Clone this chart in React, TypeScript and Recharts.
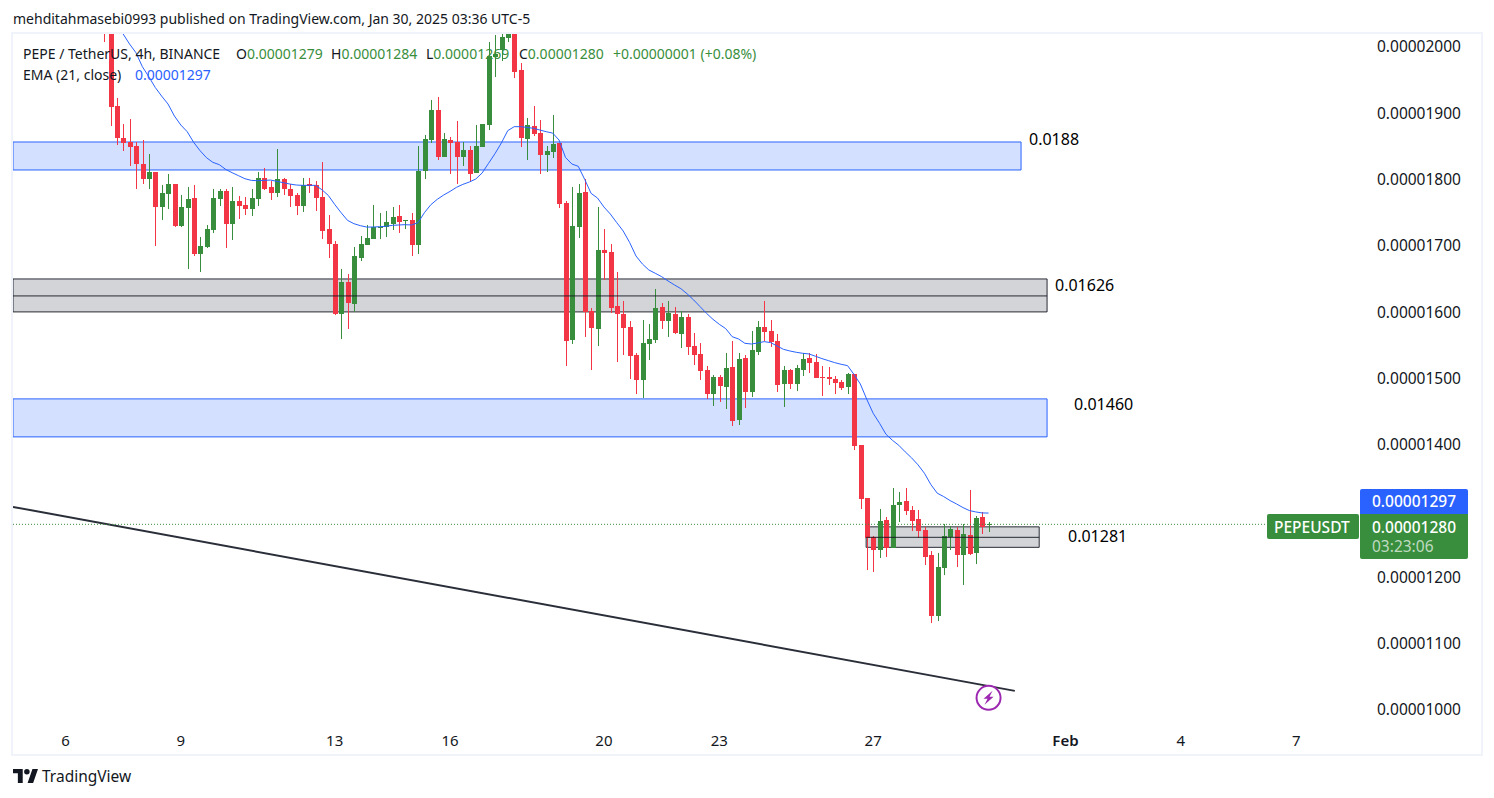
import { ComposedChart, Bar, Line, XAxis, YAxis, ReferenceArea, ReferenceLine, ReferenceDot } from 'recharts';

// prices are in units of 0.00000001 USDT, x is the candle number (4h candles, 6 a day)
const FIRST_CANDLE = -1;

const opens = [
  2060, 2035, 1911, 1863, 1857, 1850.6, 1823.5, 1801, 1811.4, 1758.6, 1778, 1793.3, 1730, 1757, 1772.2, 1687.7, 1698.3, 1724, 1770.7, 1782.8, 1733, 1767.7,
  1761.6, 1755.6, 1770.7, 1802.4, 1788.8, 1779.7, 1800.9, 1785.8, 1776.7, 1760, 1793.3, 1791.8, 1773.7, 1725.4, 1702.8, 1597.2, 1645.5, 1612.3, 1681.7, 1701.3, 1710.3, 1728, 1728.4, 1733, 1745, 1737.5, 1739, 1701.3,
  1812.9, 1859.7, 1905, 1834, 1859.7, 1856.7, 1834, 1844.6, 1809.9, 1849, 1882.3, 1984.9, 1995.4, 2013.5, 2030, 1965.3, 1861.2, 1880.8, 1870.2, 1837, 1841.6, 1855.2, 1764.6, 1558, 1728.4, 1781.2, 1601.7, 1574.6,
  1693.8, 1690.8, 1609.4, 1597.3, 1577.7, 1535.5, 1497.8, 1552, 1558.1, 1607.9, 1586.8, 1597.3, 1567.1, 1592.8, 1549, 1537, 1512.8, 1476.6, 1502.3, 1487.2, 1517.4, 1437.4, 1531, 1479.7, 1540, 1577.7, 1571.7, 1556.6, 1491.7,
  1512.9, 1491.7, 1512.9, 1531, 1524.9, 1502.3, 1502.3, 1499.3, 1494.8, 1487.2, 1506.8, 1399.7, 1319.8, 1261, 1241.4, 1286.6, 1244.4, 1309.2,
  1315.3, 1301.8, 1288.2, 1271.6, 1233.9, 1141.9, 1214.3, 1261, 1271.6, 1233.9, 1264, 1236.9, 1291.2, 1279,
];
const highs = [
  2070, 2045, 1922.5, 1884, 1891, 1857, 1860, 1838.6, 1811.4, 1791.8, 1808.4, 1793.3, 1776.7, 1788.8, 1791.8, 1713.4, 1731.5, 1785.8, 1785.8, 1785.8, 1788.8, 1775.2,
  1773.7, 1785.8, 1811.4, 1817.4, 1797.8, 1846, 1802.4, 1793.3, 1779.7, 1802.4, 1802.4, 1797.8, 1826.5, 1746.6, 1707.3, 1665, 1657.6, 1698.3, 1714.9, 1731.5, 1761.6, 1749.6, 1752.6, 1758.6, 1761.6, 1739, 1749.6, 1850.6,
  1867.2, 1920, 1924.5, 1870, 1864, 1888.3, 1856.7, 1850.6, 1882.3, 1883.8, 2007.5, 2018, 2020, 2025, 2040, 1975.8, 1892.9, 1911, 1889.8, 1850.6, 1897.4, 1855.2, 1767.7, 1788.8, 1793.3, 1800.9, 1606.3, 1758.6,
  1725.5, 1702.9, 1660.7, 1616.9, 1586.8, 1538.5, 1588.3, 1582.2, 1635, 1613.9, 1616.9, 1607.9, 1601.8, 1597.3, 1568.7, 1553.6, 1518.9, 1505.3, 1505.3, 1538.5, 1556.6, 1538.5, 1535.5, 1571.7, 1586.8, 1616.9, 1588.3, 1567.1, 1518.9,
  1514.4, 1520.4, 1538.5, 1538.5, 1537, 1518.9, 1517.4, 1503.8, 1497.8, 1508.3, 1506.8, 1399.7, 1319.8, 1262.5, 1303.2, 1291.1, 1334.9, 1328.8,
  1334.9, 1307.8, 1301.8, 1276.1, 1239.9, 1236.9, 1280.6, 1277.6, 1276.1, 1280.6, 1332, 1292.7, 1298.7, 1284,
];
const lows = [
  2007, 1881, 1852, 1843, 1820.5, 1786, 1793.3, 1786, 1699.8, 1739, 1755.6, 1728.4, 1728.4, 1665, 1684.7, 1660.6, 1696.8, 1719.4, 1760, 1696.8, 1708.8, 1740.5,
  1746.6, 1745, 1760, 1784.3, 1769, 1773.7, 1776.7, 1758.6, 1746.6, 1751, 1779.7, 1752.6, 1710.3, 1681.7, 1595.7, 1559.5, 1574.6, 1600.2, 1677.2, 1701.3, 1710.3, 1710.3, 1713.4, 1723.9, 1719.4, 1725.4, 1684.7, 1687.7,
  1800.9, 1855.6, 1829.5, 1834, 1808.4, 1793.3, 1820.5, 1796.3, 1809.9, 1849, 1874.8, 1954.7, 1978.8, 2007.5, 1953.2, 1849, 1829.5, 1865.7, 1808.4, 1811.4, 1832.5, 1757, 1518.8, 1552, 1711.9, 1562.5, 1512.8, 1549,
  1648.6, 1598.8, 1524.9, 1535.5, 1499.3, 1476.6, 1470.6, 1527.9, 1553.6, 1574.7, 1562.6, 1567.1, 1546, 1535.5, 1520.4, 1497.8, 1469.1, 1458.5, 1464.6, 1454, 1428.4, 1429.9, 1455.5, 1472.1, 1535.5, 1556.6, 1547.5, 1479.7, 1457,
  1484.2, 1481.2, 1503.8, 1508.3, 1500.8, 1473.6, 1490.2, 1476.7, 1482.7, 1476.7, 1392.2, 1303.2, 1211.2, 1208.2, 1229.3, 1230.8, 1244.4, 1283.6,
  1294.2, 1270.1, 1259.5, 1218.8, 1131.3, 1134.3, 1203.7, 1241.4, 1215.8, 1188.6, 1233.9, 1220.3, 1265.6, 1269,
];
const closes = [
  2022, 1910, 1862, 1855.2, 1849, 1823.5, 1801, 1811.4, 1758.6, 1779.7, 1793.3, 1730, 1758.6, 1770.7, 1687.7, 1699.8, 1725.4, 1772.2, 1782.8, 1733, 1767.7, 1760,
  1755.6, 1772.2, 1802.4, 1785.8, 1779.7, 1800.9, 1785.8, 1775.2, 1760, 1791.8, 1790.3, 1772.2, 1722.4, 1702.8, 1597.2, 1645.5, 1613.8, 1684.7, 1702.8, 1711.9, 1728.4, 1729, 1736, 1743.5, 1736, 1739, 1701.3, 1812.9,
  1861.2, 1905, 1834, 1861, 1855, 1834, 1844.6, 1808.4, 1850.6, 1883.8, 1986.4, 1989.4, 2015, 2019.6, 1962.2, 1862.7, 1882.3, 1868.7, 1837, 1843, 1853.6, 1763.1, 1556.5, 1730, 1779.7, 1600.2, 1576.1, 1693.8,
  1689.3, 1606.4, 1597.3, 1576.2, 1534, 1497.8, 1553.6, 1559.6, 1606.4, 1586.8, 1598.8, 1568.7, 1592.8, 1547.5, 1535.5, 1511.3, 1476.6, 1502.3, 1488.7, 1515.9, 1435.9, 1529.4, 1479.7, 1543, 1577.7, 1570.2, 1555.1, 1490.2, 1512.9,
  1491.7, 1515.9, 1529.4, 1523.4, 1500.8, 1500.8, 1499.3, 1493.3, 1485.7, 1506.8, 1398.2, 1318.3, 1259.5, 1241.4, 1285.1, 1244.4, 1309.2, 1313.7,
  1300.2, 1285.2, 1270.1, 1230.9, 1141.9, 1215.8, 1262.5, 1273.1, 1233.9, 1265.6, 1235.4, 1289.7, 1276.1, 1280,
];
const ema = [
  null, 2050, 2035, 2019.6, 2004.5, 1991.4, 1970.3, 1955.2, 1939.1, 1926, 1914, 1895.9, 1882.3, 1872.2, 1856.2, 1843.6, 1833, 1826, 1822.5, 1815.4, 1810.4, 1805.9,
  1801.3, 1798.8, 1798.3, 1798.8, 1799.3, 1797.3, 1795.3, 1793.3, 1791.8, 1791.3, 1791.3, 1791.3, 1784.8, 1776.2, 1762.6, 1750.1, 1738.5, 1733.5, 1730.5, 1728.4, 1728.4, 1729, 1729.5, 1731, 1731.5, 1732, 1731.5, 1735,
  1750.1, 1762.1, 1770.2, 1776.7, 1782.2, 1788.3, 1792.8, 1796.3, 1800.8, 1809.9, 1824.5, 1839, 1855.2, 1873.8, 1879.8, 1879.8, 1878.8, 1877.3, 1874.8, 1872.2, 1870.2, 1859.7, 1833.5, 1823.5, 1820, 1800.3, 1779.2, 1772.2,
  1758.7, 1748, 1735.1, 1722.5, 1705.4, 1684.8, 1672.7, 1663.7, 1658.7, 1653.6, 1647.1, 1641.1, 1635.5, 1627.5, 1618.4, 1608.4, 1598.3, 1589.3, 1581.7, 1575.2, 1563.1, 1559.6, 1553, 1552, 1553.6, 1555.6, 1554.1, 1549.1, 1544,
  1541.5, 1539.5, 1538, 1537, 1533.5, 1530, 1527, 1523.9, 1521.4, 1519.4, 1506.3, 1491.7, 1468.6, 1447.5, 1432.4, 1415.8, 1406.8, 1399.2,
  1389.3, 1380.2, 1369.7, 1357, 1340, 1326.9, 1321.9, 1315.8, 1310.8, 1305.3, 1300.8, 1298.7, 1297.2, 1297,
];

const priceTicks = [1000, 1100, 1200, 1300, 1400, 1500, 1600, 1700, 1800, 1900, 2000];
const dateTicks = [-7, 11, 35, 53, 77, 95, 119, 149, 167, 185];
const dateLabels = ['6', '9', '13', '16', '20', '23', '27', 'Feb', '4', '7'];

// zones: top, bottom, middle price, first and last candle
const blueUpper = [1856.7, 1814.5, 142.07];
const grayUpper = [1650.1, 1600.4, 1624.5, 146.13];
const blueLower = [1469.2, 1411.9, 146.13];
const grayLower = [1276.2, 1245.3, 1260.4, 117.9, 144.9];
const trendLine = [-15.18, 1306.3, 141.1, 1028.8];
const levelNames = ['0.0188', '0.01626', '0.01460', '0.01281'];

const X_DOMAIN = [-15.18, 195.1];
const Y_DOMAIN = [993.9, 2019.6];
const LAST_PRICE = 1280;

const UP = '#388e3c';
const DOWN = '#f23645';
const BLUE = '#2962ff';
const INK = '#131722';
const FONT = '"Noto Sans", sans-serif';

const candles = opens.map((open, i) => ({
  t: FIRST_CANDLE + i,
  open,
  close: closes[i],
  high: highs[i],
  low: lows[i],
  range: [lows[i], highs[i]],
  ema: ema[i],
}));

function Candle(props: any) {
  const { x, y, width, height, payload } = props;
  const color = payload.close >= payload.open ? UP : DOWN;
  const mid = Math.round(x + width / 2);
  const top = Math.min(y, y + height);
  const span = Math.abs(height);
  const perUnit = span / (payload.high - payload.low);
  const bodyTop = top + (payload.high - Math.max(payload.open, payload.close)) * perUnit;
  const bodyH = Math.max(1, Math.abs(payload.open - payload.close) * perUnit);
  return (
    <g shapeRendering="crispEdges">
      <rect x={mid} y={top} width={1} height={span} fill={color} />
      <rect x={mid - 2} y={bodyTop} width={5} height={bodyH} fill={color} />
    </g>
  );
}

function DateTick({ x, y, payload }: any) {
  const label = dateLabels[dateTicks.indexOf(payload.value)];
  return (
    <text x={x} y={y + 24} textAnchor="middle" fontFamily={FONT} fontSize={15} fill={INK} fontWeight={label === 'Feb' ? 600 : 400}>
      {label}
    </text>
  );
}

function Flash({ cx, cy }: any) {
  return (
    <g>
      <circle cx={cx} cy={cy} r={12} fill="#fff" stroke="#9c27b0" strokeWidth={2} />
      <path d={`M${cx + 4} ${cy - 7}L${cx - 5} ${cy + 1}L${cx - 1} ${cy + 1}L${cx - 4} ${cy + 7}L${cx + 5} ${cy - 1}L${cx + 1} ${cy - 1}Z`} fill="#9c27b0" />
    </g>
  );
}

function Txt({ x, y, color = INK, size = 14, weight = 400, children }: any) {
  return (
    <div style={{ position: 'absolute', left: x, top: y, color, fontSize: size, fontWeight: weight, lineHeight: '20px', whiteSpace: 'pre', fontFamily: FONT }}>
      {children}
    </div>
  );
}

function Tag({ x, y, w, h, color, radius }: any) {
  return <div style={{ position: 'absolute', left: x, top: y, width: w, height: h, background: color, borderRadius: radius }} />;
}

export default function App() {
  return (
    <div style={{ position: 'absolute', left: 0, top: 0, width: 1494, height: 798, background: '#fff', overflow: 'hidden' }}>
      <div style={{ position: 'absolute', left: 11, top: 32, width: 1468, height: 720, border: '2px solid #f0f3fa' }} />
      <div style={{ position: 'absolute', left: 13, top: 34 }}>
        <ComposedChart width={1467} height={718} data={candles} margin={{ top: 0, right: 0, bottom: 0, left: 0 }}>
          <XAxis dataKey="t" type="number" domain={X_DOMAIN} allowDataOverflow ticks={dateTicks} interval={0} height={38} axisLine={false} tickLine={false} tick={<DateTick />} />
          <YAxis orientation="right" type="number" domain={Y_DOMAIN} allowDataOverflow ticks={priceTicks} interval={0} width={119} axisLine={false} tickLine={false} tickMargin={10}
            tick={{ fill: INK, fontSize: 15.5, fontFamily: FONT }} tickFormatter={(v: number) => (v / 1e8).toFixed(8)} />

          <ReferenceArea x2={blueUpper[2]} y1={blueUpper[1]} y2={blueUpper[0]} fill={BLUE} fillOpacity={0.2} stroke={BLUE} strokeWidth={1} ifOverflow="hidden" />
          <ReferenceArea x2={grayUpper[3]} y1={grayUpper[1]} y2={grayUpper[0]} fill="#787b86" fillOpacity={0.33} stroke={INK} strokeOpacity={0.9} strokeWidth={1} ifOverflow="hidden" />
          <ReferenceLine segment={[{ x: X_DOMAIN[0], y: grayUpper[2] }, { x: grayUpper[3], y: grayUpper[2] }]} stroke={INK} strokeOpacity={0.9} />
          <ReferenceArea x2={blueLower[2]} y1={blueLower[1]} y2={blueLower[0]} fill={BLUE} fillOpacity={0.2} stroke={BLUE} strokeWidth={1} ifOverflow="hidden" />
          <ReferenceArea x1={grayLower[3]} x2={grayLower[4]} y1={grayLower[1]} y2={grayLower[0]} fill="#787b86" fillOpacity={0.33} stroke={INK} strokeOpacity={0.9} strokeWidth={1} ifOverflow="hidden" />
          <ReferenceLine segment={[{ x: grayLower[3], y: grayLower[2] }, { x: grayLower[4], y: grayLower[2] }]} stroke={INK} strokeOpacity={0.9} />
          <ReferenceLine segment={[{ x: trendLine[0], y: trendLine[1] }, { x: trendLine[2], y: trendLine[3] }]} stroke="#2a2e39" strokeWidth={2} />
          <ReferenceLine segment={[{ x: X_DOMAIN[0], y: LAST_PRICE }, { x: 180.45, y: LAST_PRICE }]} stroke={UP} strokeDasharray="1 2" />

          <Bar dataKey="range" barSize={5} shape={<Candle />} isAnimationActive={false} />
          <Line dataKey="ema" type="linear" stroke={BLUE} strokeWidth={1} dot={false} connectNulls={false} isAnimationActive={false} />
          <ReferenceDot x={137} y={1018.3} r={12} shape={<Flash />} ifOverflow="visible" />
        </ComposedChart>
      </div>

      <div style={{ position: 'absolute', left: 1362, top: 715, width: 118, height: 36, background: '#fff' }} />

      <Txt x={13} y={9}>mehditahmasebi0993 published on TradingView.com, Jan 30, 2025 03:36 UTC-5</Txt>
      <Txt x={23} y={44}>PEPE / TetherUS, 4h, BINANCE</Txt>
      <Txt x={236} y={44}>O<span style={{ color: UP }}>0.00001279</span></Txt>
      <Txt x={331} y={44}>H<span style={{ color: UP }}>0.00001284</span></Txt>
      <Txt x={426} y={44}>L<span style={{ color: UP }}>0.00001269</span></Txt>
      <Txt x={519} y={44}>C<span style={{ color: UP }}>0.00001280</span></Txt>
      <Txt x={613} y={44} color={UP}>+0.00000001 (+0.08%)</Txt>
      <Txt x={23} y={65}>EMA (21, close)</Txt>
      <Txt x={135} y={65} color={BLUE}>0.00001297</Txt>

      <Txt x={1029} y={129} color="#000" size={16}>{levelNames[0]}</Txt>
      <Txt x={1055} y={275} color="#000" size={16}>{levelNames[1]}</Txt>
      <Txt x={1074} y={394} color="#000" size={16}>{levelNames[2]}</Txt>
      <Txt x={1068} y={526} color="#000" size={16}>{levelNames[3]}</Txt>

      <Tag x={1360} y={489} w={108} h={25} color={BLUE} radius="2px 2px 0 0" />
      <Tag x={1360} y={514} w={108} h={45} color={UP} radius="0 0 2px 2px" />
      <Tag x={1267} y={514} w={92} h={25} color={UP} radius={2} />
      <Txt x={1372} y={491} color="#fff" size={15.5} weight={500}>0.00001297</Txt>
      <Txt x={1372} y={517} color="#fff" size={15.5} weight={500}>0.00001280</Txt>
      <Txt x={1372} y={536} color="#ffffffb0" size={15.5}>03:23:06</Txt>
      <Txt x={1274} y={517} color="#fff" size={15.5} weight={500}>PEPEUSDT</Txt>

      <svg style={{ position: 'absolute', left: 13, top: 769 }} width={25} height={14} viewBox="0 0 36 20">
        <path d="M14 0H0v6h7v14h7V0zm15 20h-8l7-20h8l-7 20zM20 8a4 4 0 1 0 0-8 4 4 0 0 0 0 8z" fill={INK} />
      </svg>
      <Txt x={42} y={766} size={15.5}>TradingView</Txt>
    </div>
  );
}
